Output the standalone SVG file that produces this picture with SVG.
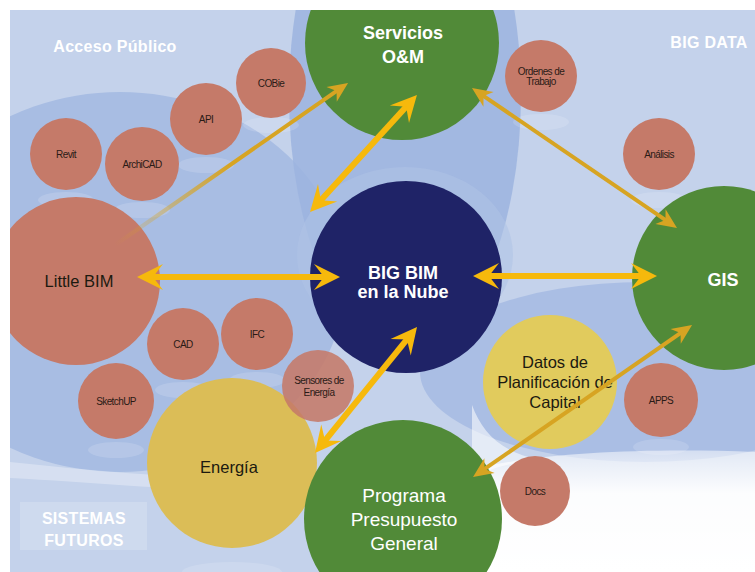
<svg xmlns="http://www.w3.org/2000/svg" width="755" height="572" viewBox="0 0 755 572">
  <defs>
    <style>
      .bg-base { fill: #c4d2eb; }
      .node-salmon { fill: #c57a69; }
      .node-green { fill: #518a38; }
      .node-navy { fill: #1f2367; }
      .node-yellow { fill: #dbbd57; }
      .node-pale { fill: #e1cb5d; }
      .refl { fill: #ffffff; opacity: 0.15; }
      .lbl-s { font-family: "Liberation Sans", Arial, sans-serif; font-size: 10px; fill: #2a1a16; text-anchor: middle; letter-spacing: -0.6px; }
      .lbl-m { font-family: "Liberation Sans", Arial, sans-serif; font-size: 16.5px; fill: #1c1a10; text-anchor: middle; }
      .lbl-w { font-family: "Liberation Sans", Arial, sans-serif; font-size: 18px; font-weight: bold; fill: #ffffff; text-anchor: middle; }
      .lbl-g { font-family: "Liberation Sans", Arial, sans-serif; font-size: 19px; fill: #ffffff; text-anchor: middle; }
      .zone { font-family: "Liberation Sans", Arial, sans-serif; font-size: 16px; font-weight: bold; fill: #ffffff; text-anchor: middle; letter-spacing: 0.3px; }
      .thick { stroke: #f6b90c; stroke-width: 6; fill: none; marker-start: url(#headThick); marker-end: url(#headThick); }
      .thin { stroke: #d7a422; stroke-width: 4; fill: none; marker-start: url(#headThin); marker-end: url(#headThin); }
    </style>
    <clipPath id="page">
      <rect x="10" y="10" width="745" height="562"/>
    </clipPath>
    <marker id="headThick" markerUnits="userSpaceOnUse" orient="auto-start-reverse" markerWidth="40" markerHeight="40" refX="0" refY="0" viewBox="-20 -20 40 40" overflow="visible">
      <path d="M14,0 L-12,-13 L-2,0 L-12,13 Z" fill="#f6b90c"/>
    </marker>
    <marker id="headThin" markerUnits="userSpaceOnUse" orient="auto-start-reverse" markerWidth="40" markerHeight="40" refX="0" refY="0" viewBox="-20 -20 40 40" overflow="visible">
      <path d="M12,0 L-8,-9 L-2,0 L-8,9 Z" fill="#d7a422"/>
    </marker>
    <linearGradient id="whiteFade" x1="0" y1="0" x2="0" y2="1">
      <stop offset="0" stop-color="#ffffff" stop-opacity="0.5"/>
      <stop offset="0.35" stop-color="#ffffff" stop-opacity="0.95"/>
      <stop offset="1" stop-color="#ffffff" stop-opacity="1"/>
    </linearGradient>
    <linearGradient id="fadeIn" gradientUnits="userSpaceOnUse" x1="115" y1="245" x2="230" y2="165">
      <stop offset="0" stop-color="#d7a422" stop-opacity="0"/>
      <stop offset="1" stop-color="#d7a422" stop-opacity="1"/>
    </linearGradient>
  </defs>

  <!-- page margin -->
  <rect x="0" y="0" width="755" height="572" fill="#ffffff"/>

  <g clip-path="url(#page)">
    <rect class="bg-base" x="10" y="10" width="745" height="562"/>

    <g id="backdrop">
      <!-- left public-access field -->
      <ellipse cx="120" cy="282" rx="225" ry="190" fill="#a8bde3"/>
      <!-- central band behind O&M -->
      <ellipse cx="405" cy="95" rx="116" ry="255" fill="#9cb4df" opacity="0.85"/>
      <ellipse cx="405" cy="255" rx="108" ry="88" fill="#aec2e6" opacity="0.55"/>
      <!-- right field below GIS -->
      <ellipse cx="645" cy="372" rx="225" ry="90" fill="#aabee4"/>
      <!-- soft light streak under left field -->
      <path d="M10,462 C90,470 160,478 250,478 L250,490 C160,490 90,482 10,478 Z" fill="#ffffff" opacity="0.3"/>
      <!-- white lower-right area -->
      <path d="M470,470 C540,452 650,448 755,452 L755,572 L470,572 Z" fill="url(#whiteFade)"/>
      <path d="M472,405 C482,432 500,452 540,460 C505,463 485,470 472,480 Z" fill="#ffffff" opacity="0.55"/>
      <!-- pale box behind lower-left label -->
      <rect x="20" y="502" width="127" height="48" fill="#ffffff" opacity="0.18"/>
    </g>

    <g id="zone-labels">
      <text class="zone" x="115" y="52">Acceso Público</text>
      <text class="zone" x="709" y="48">BIG DATA</text>
      <text class="zone" x="84" y="524" letter-spacing="0.6">SISTEMAS</text>
      <text class="zone" x="84" y="546" letter-spacing="0.6">FUTUROS</text>
    </g>

    <!-- reflections under the small circles -->
    <g id="reflections">
      <ellipse class="refl" cx="66" cy="200" rx="28" ry="8"/>
      <ellipse class="refl" cx="142" cy="210" rx="28" ry="8"/>
      <ellipse class="refl" cx="206" cy="165" rx="28" ry="8"/>
      <ellipse class="refl" cx="271" cy="125" rx="28" ry="8"/>
      <ellipse class="refl" cx="541" cy="122" rx="28" ry="8"/>
      <ellipse class="refl" cx="659" cy="200" rx="28" ry="8"/>
      <ellipse class="refl" cx="183" cy="390" rx="28" ry="8"/>
      <ellipse class="refl" cx="257" cy="380" rx="28" ry="8"/>
      <ellipse class="refl" cx="116" cy="450" rx="28" ry="8"/>
      <ellipse class="refl" cx="661" cy="447" rx="28" ry="8"/>
      <ellipse class="refl" cx="535" cy="537" rx="28" ry="8"/>
      <ellipse class="refl" cx="232" cy="572" rx="50" ry="10"/>
    </g>

    <g id="revit"><circle class="node-salmon" cx="66" cy="154" r="36"/><text class="lbl-s" x="66" y="158">Revit</text></g>
    <g id="archicad"><circle class="node-salmon" cx="142" cy="164" r="37"/><text class="lbl-s" x="142" y="168">ArchiCAD</text></g>
    <g id="api"><circle class="node-salmon" cx="206" cy="119" r="36"/><text class="lbl-s" x="206" y="123">API</text></g>
    <g id="cobie"><circle class="node-salmon" cx="271" cy="83" r="35"/><text class="lbl-s" x="271" y="87">COBie</text></g>
    <g id="ordenes"><circle class="node-salmon" cx="541" cy="76" r="36"/><text class="lbl-s" x="541" y="75">Ordenes de</text><text class="lbl-s" x="541" y="85">Trabajo</text></g>
    <g id="analisis"><circle class="node-salmon" cx="659" cy="154" r="36"/><text class="lbl-s" x="659" y="158">Análisis</text></g>
    <g id="cad"><circle class="node-salmon" cx="183" cy="344" r="36"/><text class="lbl-s" x="183" y="348">CAD</text></g>
    <g id="ifc"><circle class="node-salmon" cx="257" cy="334" r="36"/><text class="lbl-s" x="257" y="338">IFC</text></g>
    <g id="sketchup"><circle class="node-salmon" cx="116" cy="401" r="38"/><text class="lbl-s" x="116" y="405">SketchUP</text></g>
    <g id="apps"><circle class="node-salmon" cx="661" cy="400" r="37"/><text class="lbl-s" x="661" y="404">APPS</text></g>
    <g id="docs"><circle class="node-salmon" cx="535" cy="491" r="35"/><text class="lbl-s" x="535" y="495">Docs</text></g>

    <g id="little-bim">
      <circle class="node-salmon" cx="76" cy="281" r="84"/>
      <text class="lbl-m" x="79" y="287" font-size="15.5">Little BIM</text>
    </g>

    <g id="energia">
      <circle class="node-yellow" cx="232" cy="463" r="85"/>
      <text class="lbl-m" x="229" y="473" font-size="17">Energía</text>
    </g>

    <g id="sensores">
      <circle class="node-salmon" cx="318" cy="386" r="36" opacity="0.88"/>
      <text class="lbl-s" x="319" y="384">Sensores de</text>
      <text class="lbl-s" x="319" y="396">Energía</text>
    </g>

    <g id="servicios">
      <circle class="node-green" cx="402" cy="43" r="97"/>
      <text class="lbl-w" x="403" y="39" font-size="17">Servicios</text>
      <text class="lbl-w" x="403" y="63" font-size="17">O&amp;M</text>
    </g>

    <g id="big-bim">
      <circle class="node-navy" cx="406" cy="277" r="96"/>
      <text class="lbl-w" font-size="17"><tspan x="403" y="279">BIG BIM</tspan><tspan x="403" y="298">en la Nube</tspan></text>
    </g>

    <g id="gis">
      <circle class="node-green" cx="724" cy="278" r="92"/>
      <text class="lbl-w" x="723" y="286">GIS</text>
    </g>

    <g id="datos">
      <circle class="node-pale" cx="550" cy="382" r="67"/>
      <text class="lbl-m" x="555" y="368">Datos de</text>
      <text class="lbl-m" x="555" y="388">Planificación de</text>
      <text class="lbl-m" x="555" y="408">Capital</text>
    </g>

    <g id="programa">
      <circle class="node-green" cx="403" cy="519" r="99"/>
      <text class="lbl-g" x="404" y="502">Programa</text>
      <text class="lbl-g" x="404" y="526">Presupuesto</text>
      <text class="lbl-g" x="404" y="550">General</text>
    </g>

    <g id="connectors">
      <line class="thick" x1="151" y1="277" x2="326" y2="277"/>
      <line class="thick" x1="487" y1="276" x2="643" y2="276"/>
      <line class="thick" x1="319.5" y1="201.7" x2="407.5" y2="105.3"/>
      <line class="thick" x1="323.8" y1="442.1" x2="408.2" y2="337.9"/>
      <line x1="115" y1="245" x2="338.2" y2="89.9" stroke="url(#fadeIn)" stroke-width="4" marker-end="url(#headThin)"/>
      <line class="thin" x1="481.9" y1="94.8" x2="667.1" y2="221.2"/>
      <line class="thin" x1="482.9" y1="470.2" x2="682.2" y2="331.8"/>
    </g>
  </g>
</svg>
